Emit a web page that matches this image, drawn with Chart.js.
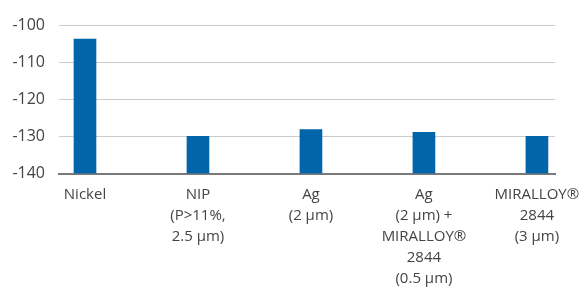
<!DOCTYPE html>
<html>
<head>
<meta charset="utf-8">
<script src="https://cdn.jsdelivr.net/npm/chart.js@4"></script>
<style>
  html, body { margin: 0; padding: 0; background: #fff; }
  #wrap { width: 585px; height: 291px; }
</style>
</head>
<body>
<div id="wrap"><canvas id="chart"></canvas></div>
<script>
// category labels (multi-line)
const categories = [
	["Nickel"],
	["NIP", "(P>11%,", "2.5 µm)"],
	["Ag", "(2 µm)"],
	["Ag", "(2 µm) +", "MIRALLOY®", "2844", "(0.5 µm)"],
	["MIRALLOY®", "2844", "(3 µm)"]
];
const values = [-103.8, -130, -128.2, -128.9, -130];
const yTicks = [-140, -130, -120, -110, -100];

const yMin = -140;
const yMax = -100;

// bars are floating from the axis bottom up to the value
const barData = values.map(function(v, i) {
	return { x: i, y: [yMin, v] };
});

const fontFamily = "'Open Sans', 'Noto Sans', sans-serif";

new Chart(document.getElementById("chart"), {
	type: "bar",
	data: {
		datasets: [{
			data: barData,
			backgroundColor: "#0065a9",
			borderWidth: 0,
			barThickness: 22
		}]
	},
	options: {
		responsive: true,
		maintainAspectRatio: false,
		animation: false,
		layout: {
			padding: { left: 0, right: 30, top: 25, bottom: 0 }
		},
		plugins: {
			legend: { display: false },
			tooltip: { enabled: false }
		},
		scales: {
			x: {
				type: "linear",
				offset: false,
				min: -0.23,
				max: 4.16,
				afterFit: function(axis) {
					axis.height = 117.5;
					axis.paddingLeft = 0;
					axis.paddingRight = 0;
				},
				grid: { display: false },
				border: { display: true, color: "#7a7a7a", width: 2 },
				ticks: {
					stepSize: 1,
					includeBounds: false,
					autoSkip: false,
					maxRotation: 0,
					padding: 2.5,
					color: "#444",
					font: { family: fontFamily, size: 15, lineHeight: 1.4 },
					callback: function(value) {
						return categories[value] || "";
					}
				}
			},
			y: {
				min: yMin,
				max: yMax,
				afterBuildTicks: function(axis) {
					axis.ticks = yTicks.map(function(v) { return { value: v }; });
				},
				afterFit: function(axis) {
					axis.width = 59;
					axis.paddingTop = 0;
					axis.paddingBottom = 0;
				},
				grid: {
					color: function(ctx) {
						return ctx.tick && ctx.tick.value === yMin ? "rgba(0,0,0,0)" : "#cccccc";
					},
					lineWidth: 1,
					drawTicks: false
				},
				border: { display: false },
				ticks: {
					padding: 14,
					color: "#444",
					font: { family: fontFamily, size: 16 }
				}
			}
		}
	}
});
</script>
</body>
</html>
